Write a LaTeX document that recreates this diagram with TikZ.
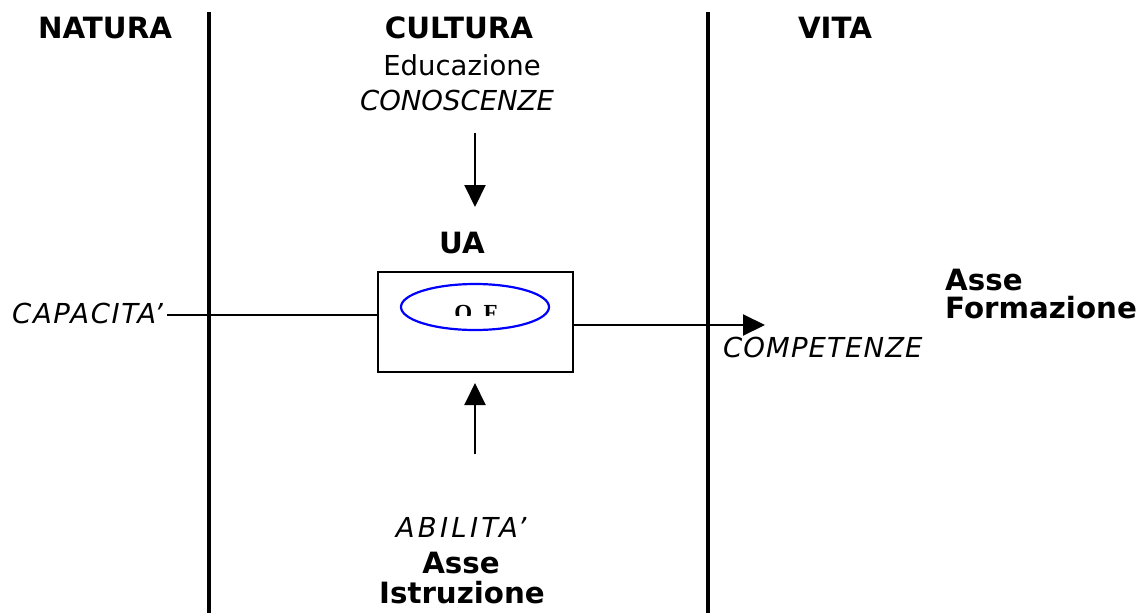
\documentclass[tikz,border=0pt]{standalone}
\usepackage{fontspec}
\setmainfont{DejaVu Sans}
\newfontfamily\ofserif{Liberation Serif}
\usetikzlibrary{arrows.meta,shapes.geometric}
\tikzset{
  txt/.style={inner sep=0pt, font=\fontsize{27.5}{33}\selectfont},
  btxt/.style={txt, font=\fontsize{29.3}{35}\selectfont\bfseries},
  itxt/.style={txt, font=\fontsize{27.5}{33}\selectfont\itshape},
  divider/.style={line width=3.2pt},
  conn/.style={line width=2pt},
  arr/.style={conn, -{Triangle[length=22pt,width=21pt]}},
}
\begin{document}
\begin{tikzpicture}[x=1pt,y=-1pt]
\useasboundingbox (0,0) rectangle (1137,613);
% dividers
\coordinate (d1t) at (209,12); \coordinate (d1b) at (209,613);
\coordinate (d2t) at (708,12); \coordinate (d2b) at (708,613);
\draw[divider] (d1t) -- (d1b);
\draw[divider] (d2t) -- (d2b);
% headers
\node[btxt, anchor=base] (natura) at (105,38) {NATURA};
\node[btxt, anchor=base] (cultura) at (459,38) {CULTURA};
\node[btxt, anchor=base] (vita) at (835,38) {VITA};
\node[txt, anchor=base] (educ) at (462,75) {Educazione};
\node[itxt, anchor=base] (conosc) at (457,110) {CONOSCENZE};
% UA box
\node[btxt, anchor=base] (ua) at (462,253) {UA};
\node[draw, conn, minimum width=195pt, minimum height=100pt, inner sep=0pt] (box) at (475.5,322) {};
\node[draw=blue, line width=2.2pt, ellipse, minimum width=148pt, minimum height=46pt, inner sep=0pt] (of) at (475,307) {};
\begin{scope}
\clip (401,284) rectangle (549,315.5);
\node[inner sep=0pt, anchor=base, font=\fontsize{23}{27}\selectfont\ofserif\bfseries] (oftext) at (476,320) {O. F};
\end{scope}
% down arrow
\coordinate (dtop) at (475,133);
\coordinate (dtip) at (475,207);
\draw[arr] (dtop) -- (dtip);
% up arrow
\coordinate (ubot) at (475,454);
\coordinate (utip) at (475,383);
\draw[arr] (ubot) -- (utip);
% left
\node[itxt, anchor=base west] (cap) at (12,323) {\addfontfeature{LetterSpace=6}CAPACITA’};
\coordinate (capend) at (167,315);
\draw[conn] (capend) -- (box.west |- capend);
% right
\coordinate (rstart) at (573,325);
\coordinate (rtip) at (765,325);
\draw[arr] (box.east |- rstart) -- (rtip);
\node[itxt, anchor=base west] (comp) at (723,357) {\addfontfeature{LetterSpace=4}COMPETENZE};
\node[btxt, anchor=base west] (asse1) at (945,290) {Asse};
\node[btxt, anchor=base west] (form) at (945,318) {Formazione};
% bottom
\node[itxt, anchor=base] (abil) at (461,537) {\addfontfeature{LetterSpace=12}ABILITA’};
\node[btxt, anchor=base] (asse2) at (461,573) {Asse};
\node[btxt, anchor=base] (istr) at (462,603) {Istruzione};
\end{tikzpicture}
\end{document}
